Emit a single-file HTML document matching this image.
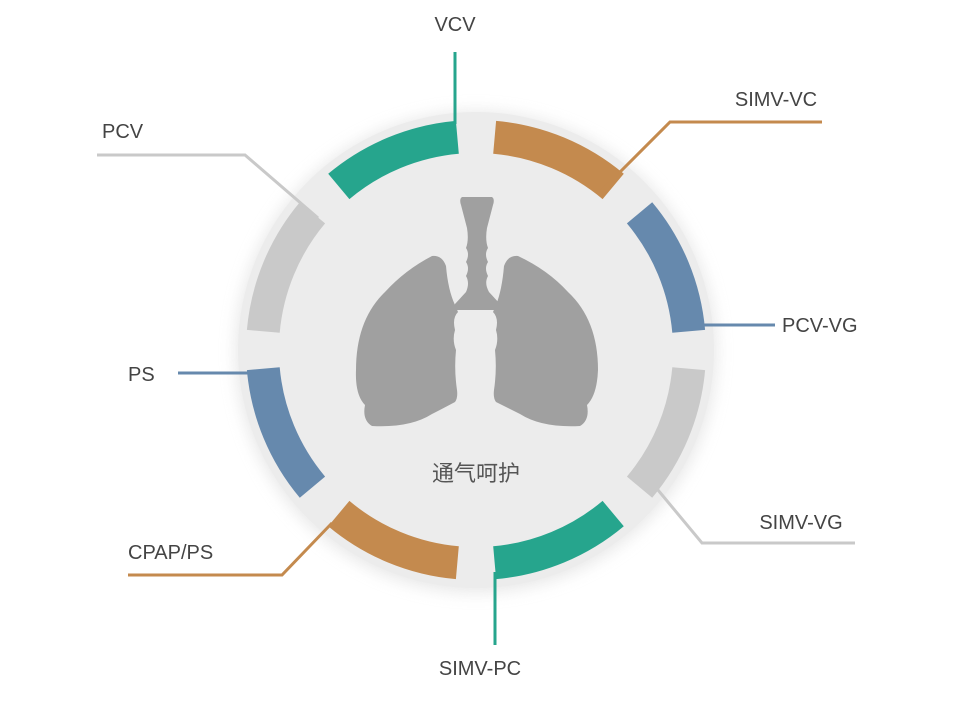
<!DOCTYPE html>
<html><head><meta charset="utf-8"><style>
html,body{margin:0;padding:0;background:#fff;width:960px;height:720px;overflow:hidden}
svg{display:block}
text{font-family:"Liberation Sans","Noto Sans CJK SC",sans-serif;fill:#444;font-size:20px}
</style></head><body>
<svg width="960" height="720" viewBox="0 0 960 720" xmlns="http://www.w3.org/2000/svg">
<defs>
<filter id="sh" x="-20%" y="-20%" width="140%" height="140%"><feGaussianBlur stdDeviation="8"/></filter>
</defs>
<circle cx="476" cy="352" r="240" fill="#ddd" filter="url(#sh)" opacity="0.7"/>
<circle cx="476" cy="350" r="238" fill="#ececec"/>
<g>
<path fill="#c48a4e" d="M496.1,120.9 A230,230 0 0 1 623.8,173.8 L602.6,199.1 A197,197 0 0 0 493.2,153.7Z"/>
<path fill="#6689ad" d="M652.2,202.2 A230,230 0 0 1 705.1,329.9 L672.3,332.8 A197,197 0 0 0 626.9,223.4Z"/>
<path fill="#c9c9c9" d="M705.1,370.1 A230,230 0 0 1 652.2,497.8 L626.9,476.6 A197,197 0 0 0 672.3,367.2Z"/>
<path fill="#26a58d" d="M623.8,526.2 A230,230 0 0 1 496.1,579.1 L493.2,546.3 A197,197 0 0 0 602.6,500.9Z"/>
<path fill="#c48a4e" d="M455.9,579.1 A230,230 0 0 1 328.2,526.2 L349.4,500.9 A197,197 0 0 0 458.8,546.3Z"/>
<path fill="#6689ad" d="M299.8,497.8 A230,230 0 0 1 246.9,370.1 L279.7,367.2 A197,197 0 0 0 325.1,476.6Z"/>
<path fill="#c9c9c9" d="M246.9,329.9 A230,230 0 0 1 299.8,202.2 L325.1,223.4 A197,197 0 0 0 279.7,332.8Z"/>
<path fill="#26a58d" d="M328.2,173.8 A230,230 0 0 1 455.9,120.9 L458.8,153.7 A197,197 0 0 0 349.4,199.1Z"/>
</g>
<g fill="none" stroke-width="3">
<polyline points="455,52 455,124" stroke="#26a58d"/>
<polyline points="600,192 670,122 822,122" stroke="#c48a4e"/>
<polyline points="700,325 775,325" stroke="#6689ad"/>
<polyline points="648,478 702,543 855,543" stroke="#c9c9c9"/>
<polyline points="495,572 495,645" stroke="#26a58d"/>
<polyline points="332,523 282,575 128,575" stroke="#c48a4e"/>
<polyline points="178,373 250,373" stroke="#6689ad"/>
<polyline points="97,155 245,155 318,218" stroke="#c9c9c9"/>
</g>
<g fill="#a0a0a0">
<path d="M462,197 L492,197 Q495,199 493,205 L487,228 Q485,240 488,248 Q484,254 488,262 Q484,268 488,276 Q484,283 489,292 L500,304 L503,310 L452,310 L455,304 L466,292 Q470,283 466,276 Q470,268 466,262 Q470,254 466,248 Q469,240 467,228 L461,205 Q459,199 462,197Z"/>
<path d="M432,256 Q442,255 446,266 Q448,290 455,305 L458,312 Q452,318 455,330 Q452,340 456,350 Q454,370 457,390 Q458,398 455,402 Q440,410 432,414 Q410,428 372,426 Q362,420 365,405 Q355,395 356,370 Q356,320 385,292 Q405,270 432,256Z"/>
<path d="M518,256 Q508,255 504,266 Q502,290 496,305 L493,312 Q499,318 496,330 Q499,340 495,350 Q497,370 494,390 Q493,398 496,402 Q512,410 520,414 Q542,428 580,426 Q590,420 587,405 Q597,395 598,370 Q598,320 568,292 Q548,270 518,256Z"/>
</g>
<text x="476" y="481" text-anchor="middle" style="font-size:22px;fill:#555">通气呵护</text>
<text x="455" y="31" text-anchor="middle">VCV</text>
<text x="776" y="106" text-anchor="middle">SIMV-VC</text>
<text x="782" y="332">PCV-VG</text>
<text x="801" y="529" text-anchor="middle">SIMV-VG</text>
<text x="480" y="675" text-anchor="middle">SIMV-PC</text>
<text x="128" y="559">CPAP/PS</text>
<text x="128" y="381">PS</text>
<text x="102" y="138">PCV</text>
</svg>
</body></html>
